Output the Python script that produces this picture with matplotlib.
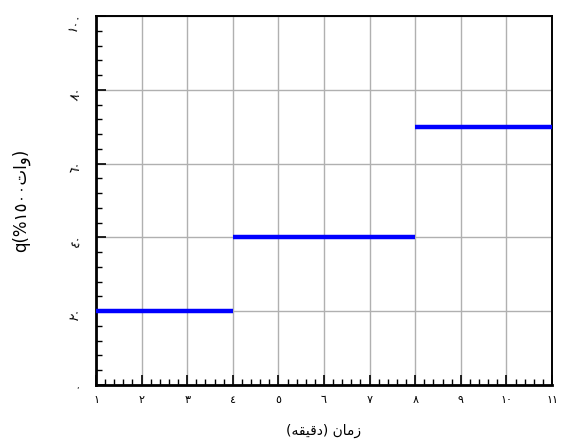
import matplotlib.pyplot as plt
from matplotlib.ticker import MultipleLocator

# داده‌ها: توان گرمکن در هر بازه زمانی
t_start = [1, 4, 8]
t_end = [4, 8, 11]
q_values = [20, 40, 70]

x_ticks = list(range(1, 12))
y_ticks = [0, 20, 40, 60, 80, 100]

digits = "٠١٢٣٤٥٦٧٨٩"


def to_arabic(n):
    return "".join(digits[int(c)] for c in str(n))


# متن‌ها به صورت شکل‌های نمایشی و ترتیب دیداری
x_label = "(\ufeea\ufed8\ufef4\ufed7\ufea9) \ufee5\ufe8e\ufee3\ufeaf"
y_label = "q(%" + to_arabic(1500) + "\ufe95\ufe8d\ufeed)"

plt.rcParams['font.family'] = ['DejaVu Sans']

fig = plt.figure(figsize=(5.63, 4.46), dpi=100)
ax = fig.add_axes([0.1705, 0.137, 0.81, 0.827])

ax.hlines(q_values, t_start, t_end, colors='#0000ff', linewidth=3.2, zorder=3)

ax.set_xlim(1, 11)
ax.set_ylim(0, 100)
ax.set_xticks(x_ticks)
ax.set_xticklabels([to_arabic(v) for v in x_ticks], fontsize=8)
ax.set_yticks(y_ticks)
ax.set_yticklabels([to_arabic(v) for v in y_ticks], fontsize=9, rotation=70)
ax.xaxis.set_minor_locator(MultipleLocator(0.2))
ax.yaxis.set_minor_locator(MultipleLocator(4))
ax.tick_params(which='major', direction='in', length=7, width=1.2)
ax.tick_params(axis='x', which='major', pad=7)
ax.tick_params(axis='y', which='major', pad=8)
ax.tick_params(which='minor', direction='in', length=4, width=1)

ax.grid(True, which='major', color='#b0b0b0', linestyle='-', linewidth=1)
ax.spines['left'].set_linewidth(2)
ax.spines['bottom'].set_linewidth(2)
ax.spines['top'].set_linewidth(1.4)
ax.spines['right'].set_linewidth(1.4)

ax.set_xlabel(x_label, fontsize=10, labelpad=14)
ax.set_ylabel(y_label, fontsize=12, labelpad=26)

fig.savefig('out.png', dpi=100)
